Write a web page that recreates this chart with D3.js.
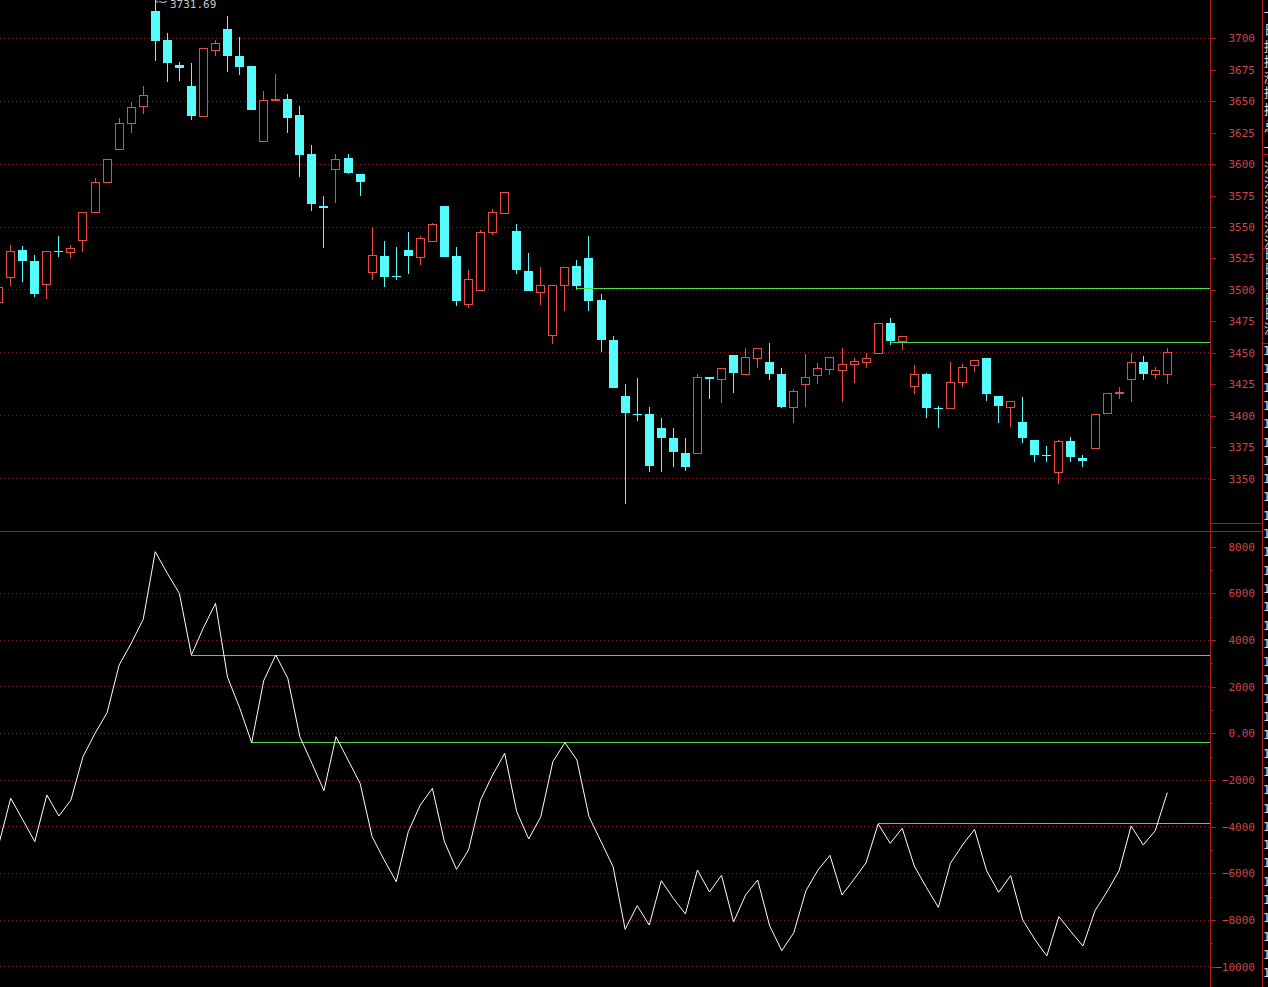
<!DOCTYPE html>
<html><head><meta charset="utf-8">
<script src="https://cdn.jsdelivr.net/npm/d3@7"></script>
<style>html,body{margin:0;padding:0;background:#000;overflow:hidden}</style>
</head><body><svg id="c" width="1268" height="987"></svg>
<script>
// ---- data ----
const openP  = [3490,3510,3532,3523,3505,3531,3530,3540,3562,3586,3612,3633,3646,3722,3699,3679,3662,3638,3691,3707,3686,3678,3618,3651,3652,3639,3608,3567,3596,3605,3592,3514,3527,3511,3532,3526,3539,3567,3527,3489,3500,3546,3561,3547,3515,3498,3464,3504,3519,3525,3492,3460,3416,3401.5,3401,3390,3382,3370,3370,3431,3429,3448,3433,3446,3443,3433,3407,3425,3432,3437,3436,3441,3443,3450,3474,3459,3424,3433,3406,3406,3427,3440,3446,3416,3407,3395,3381,3369,3355.5,3380,3366,3374,3402,3418,3429,3443,3433,3433];
const highP  = [3504,3536,3535,3528,3531,3543,3536,3562,3589,3604,3637,3649,3662,3731.69,3704,3681,3680,3692,3699,3718,3701,3678,3658,3672,3656,3646,3615,3575,3608,3608,3592,3550,3539,3534,3546,3543,3553,3567,3534,3516,3548,3564,3578,3552,3529,3518,3504,3518,3524,3543,3497,3463,3425,3430,3407,3398,3390,3382,3433,3431,3438,3448,3454,3454,3458,3438,3421,3449,3442,3447,3454,3446,3450,3474,3478,3463,3440,3434,3407.5,3443,3441,3444,3446,3416,3412,3415,3381,3376,3381,3383,3369,3401,3418,3423,3450,3447.5,3439,3454];
const lowP   = [3488,3503,3506,3494,3493,3526,3525,3530,3561,3586,3612,3625,3640,3682,3665,3666,3635,3638,3686,3673,3671,3643,3618,3651,3625,3590,3563,3533,3569,3592,3575,3508,3502,3508,3513,3520,3538,3526,3487,3486,3500,3544,3561,3513,3499,3488,3457,3483,3500,3483,3451,3422,3329.5,3396,3355,3355,3359,3356,3370,3413,3410,3418,3433,3438,3428,3406,3394,3407,3425,3432,3411,3426,3438,3450,3456.5,3452,3417,3398,3390.5,3405.6,3423,3435,3412,3394,3391,3378,3363.5,3363.5,3346,3363.5,3359,3374,3402,3413,3411,3428,3429,3425];
const closeP = [3502,3531,3523,3497,3531,3530,3533,3562,3586,3604,3633,3645,3655,3698,3680,3676,3638,3692,3696,3686,3677,3643,3651,3651.5,3637,3607,3568,3565,3604,3593,3586,3528,3510,3510,3527,3541,3552,3526,3491,3509,3546,3562,3578,3516,3499,3504,3504,3518,3503,3491,3460,3422,3402,3401,3360,3382,3371,3359,3431,3429,3438,3434,3447,3454,3433,3407,3420,3430.5,3438,3447,3441,3443.5,3446,3474,3459,3463,3433,3406,3405.5,3426.5,3439,3444,3417,3408,3412,3382,3369,3368.5,3380,3367,3364,3401,3418,3418.5,3443,3433,3436,3451];
const indicator = [-4780,-2784,-3700,-4641,-2641,-3541,-2856,-998,0,887,2930,3858,4887,7787,6858,6001,3358,4530,5573,2400,1100,-400,2258,3358,2358,-142,-1285,-2456,-142,-1142,-2141,-4427,-5427,-6356,-4213,-3070,-2356,-4641,-5827,-5000,-2856,-1784,-856,-3356,-4527,-3570,-1213,-400,-1141,-3570,-4641,-5713,-8399,-7384,-8213,-6313,-7070,-7741,-5856,-6799,-6084,-8084,-6927,-6284,-8256,-9313,-8541,-6750,-5860,-5227,-6927,-6256,-5541,-3880,-4713,-4070,-5684,-6599,-7456,-5570,-4784,-4113,-5884,-6813,-6099,-7999,-8827,-9541,-7856,-8499,-9113,-7599,-6784,-5884,-3970,-4784,-4170,-2541];

const priceTicks = [3350,3375,3400,3425,3450,3475,3500,3525,3550,3575,3600,3625,3650,3675,3700];
const priceGrid  = [3350,3400,3450,3500,3550,3600,3650,3700];
const indTicks   = [-10000,-8000,-6000,-4000,-2000,0,2000,4000,6000,8000];
const indMinor   = [-9000,-7000,-5000,-3000,-1000,1000,3000,5000,7000];
const indGrid    = [-10000,-8000,-6000,-4000,-2000,0,2000,4000,6000];
const priceLevels = [3501,3458], priceLevelStart = [48,74];
const indLevels = [3358,-400,-3880], indLevelStart = [16,21,73];
const peakLabel = "3731.69";
const sideA = ["一","日","持","换","涨","振","换","总","一"];
const sideB = ["流","流","流","流","流","流"];
const sideC = ["日","日","日","日","日","流"];

// ---- styles ----
const RED="#ea4a3f", CYAN="#54fcfc", AX="#b01818", LBL="#d04444", GRID="#8a1e1e", GREEN="#4cdc4c";
const W=1268,H=987;
const svg=d3.select('#c');
svg.append('rect').attr('width',W).attr('height',H).attr('fill','#000');

const n=openP.length;
const idx=d3.range(n);
const x=d3.scaleLinear().domain([0,n-1]).range([-1.35,1167.3]);
const px=i=>Math.floor(x(i));
const yP=d3.scaleLinear().domain([3350,3700]).range([478.6,38.3]);
const yL=d3.scaleLinear().domain([-10000,8000]).range([966.7,546.7]);
const r=v=>Math.floor(v)+0.5;

// grids
const gg=svg.append('g').attr('shape-rendering','crispEdges');
gg.selectAll('.gp').data(priceGrid).join('line')
  .attr('x1',0).attr('x2',1209).attr('y1',d=>r(yP(d))).attr('y2',d=>r(yP(d)))
  .attr('stroke',GRID).attr('stroke-dasharray','1 3');
gg.selectAll('.gl').data(indGrid).join('line')
  .attr('x1',0).attr('x2',1209).attr('y1',d=>r(yL(d))).attr('y2',d=>r(yL(d)))
  .attr('stroke',GRID).attr('stroke-dasharray','1 3');

// frame lines
const fr=svg.append('g').attr('shape-rendering','crispEdges').attr('stroke',AX);
fr.append('line').attr('x1',1210.5).attr('x2',1210.5).attr('y1',0).attr('y2',H);
fr.append('line').attr('x1',1262.5).attr('x2',1262.5).attr('y1',0).attr('y2',H);
fr.append('line').attr('x1',0).attr('x2',1263).attr('y1',531.5).attr('y2',531.5);
fr.append('line').attr('x1',1210).attr('x2',1263).attr('y1',523.5).attr('y2',523.5);
[154.5,248.5,343.5].forEach(y=>fr.append('line').attr('x1',1262).attr('x2',W).attr('y1',y).attr('y2',y));

// axes
function styleAxis(g){
  g.select('.domain').remove();
  g.selectAll('line').attr('stroke',AX).attr('shape-rendering','crispEdges');
  g.selectAll('text').attr('x',45).attr('text-anchor','end').attr('fill',LBL)
   .style('font-family','"DejaVu Sans Mono", monospace').style('font-size','11px');
}
const gP=svg.append('g').attr('transform','translate(1210,0)')
  .call(d3.axisRight(yP).tickValues(priceTicks).tickSize(6).tickFormat(d3.format('d')));
styleAxis(gP);
const gL=svg.append('g').attr('transform','translate(1210,0)')
  .call(d3.axisRight(yL).tickValues(indTicks).tickSize(6).tickFormat(d=>d===0?'0.00':d3.format('d')(d)));
styleAxis(gL);
const gM=svg.append('g').attr('transform','translate(1210,0)')
  .call(d3.axisRight(yL).tickValues(indMinor).tickSize(3).tickFormat(''));
styleAxis(gM);

// candles
const gc=svg.append('g').attr('shape-rendering','crispEdges');
idx.forEach(i=>{
  const o=openP[i],c=closeP[i],h=highP[i],l=lowP[i];
  const up=c>o;
  const cx=px(i)+0.5;
  const yt=Math.round(yP(Math.max(o,c))), yb=Math.round(yP(Math.min(o,c)));
  const yh=Math.round(yP(h)), yl=Math.round(yP(l));
  if(up){
    if(yt>yh) gc.append('line').attr('x1',cx).attr('x2',cx).attr('y1',yh).attr('y2',yt).attr('stroke',RED);
    if(yl>yb) gc.append('line').attr('x1',cx).attr('x2',cx).attr('y1',yb).attr('y2',yl).attr('stroke',RED);
    if(yb-yt>=1){
      gc.append('rect').attr('x',px(i)-4+0.5).attr('y',yt+0.5).attr('width',8).attr('height',yb-yt)
        .attr('fill','#000').attr('stroke',RED);
    } else {
      gc.append('line').attr('x1',px(i)-4).attr('x2',px(i)+5).attr('y1',yt+0.5).attr('y2',yt+0.5).attr('stroke',RED);
    }
  } else {
    gc.append('line').attr('x1',cx).attr('x2',cx).attr('y1',yh).attr('y2',yl).attr('stroke',CYAN);
    gc.append('rect').attr('x',px(i)-4).attr('y',yt).attr('width',9).attr('height',Math.max(yb-yt,1)).attr('fill',CYAN);
  }
});

// peak label
svg.append('path').attr('d',`M${px(13)+2},0.5 L${px(13)+2},3 M${px(13)+4},1.5 L${px(13)+8},2.5 L${px(13)+12},1.5`)
  .attr('stroke','#c8c8c8').attr('fill','none');
svg.append('text').attr('x',px(13)+15).attr('y',7.5).text(peakLabel)
  .attr('fill','#c8c8c8').style('font-family','"DejaVu Sans Mono", monospace').style('font-size','11px');

// green level lines
const gl=svg.append('g').attr('shape-rendering','crispEdges').attr('stroke',GREEN);
priceLevels.forEach((v,k)=>gl.append('line').attr('x1',px(priceLevelStart[k])).attr('x2',1210)
  .attr('y1',r(yP(v))).attr('y2',r(yP(v))));
indLevels.forEach((v,k)=>gl.append('line').attr('x1',px(indLevelStart[k])).attr('x2',1210)
  .attr('y1',r(yL(v))).attr('y2',r(yL(v))));

// indicator line
svg.append('path').datum(idx)
  .attr('d',d3.line().x(i=>x(i)).y(i=>yL(indicator[i])))
  .attr('fill','none').attr('stroke','#ffffff').attr('stroke-width',1);

// clipped side column
const side=svg.append('g').attr('fill','#e6e6e6').style('font-family','"Noto Sans CJK SC", sans-serif').style('font-size','13px');
const yA=[17,34,51,66,82,97,114,131,152], yB=[172,187,202,217,232,246], yC=[258,273,288,303,318,333];
sideA.forEach((t,k)=>side.append('text').attr('x',1264).attr('y',yA[k]).text(t));
sideB.forEach((t,k)=>side.append('text').attr('x',1264).attr('y',yB[k]).text(t));
sideC.forEach((t,k)=>side.append('text').attr('x',1264).attr('y',yC[k]).text(t));
const ones=d3.range(355,990,18.3);
side.selectAll('.one').data(ones).join('text').attr('x',1263).attr('y',d=>d)
  .style('font-family','"DejaVu Sans Mono", monospace').style('font-size','12px').text('1');
</script></body></html>
